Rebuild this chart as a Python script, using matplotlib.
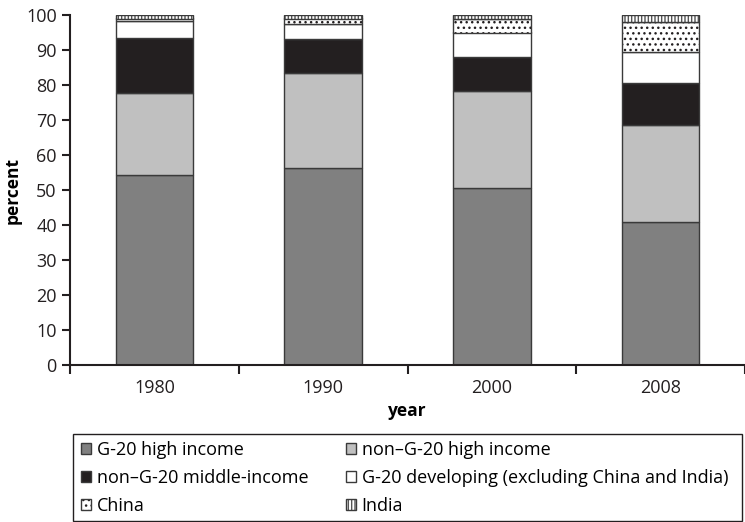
import matplotlib
matplotlib.use("Agg")
import matplotlib.pyplot as plt
from matplotlib.patches import Rectangle
import numpy as np

plt.rcParams['font.family'] = ['Open Sans', 'DejaVu Sans']
plt.rcParams['hatch.linewidth'] = 1.0

years = ["1980", "1990", "2000", "2008"]
series_names = ["G-20 high income", "non\u2013G-20 high income", "non\u2013G-20 middle-income",
                "G-20 developing (excluding China and India)", "China", "India"]
g20_high = [54.3, 56.3, 50.5, 40.8]
non_g20_high = [23.5, 27.0, 27.7, 27.7]
non_g20_middle = [15.5, 9.8, 9.7, 12.0]
g20_developing = [5.0, 4.2, 7.1, 8.8]
china = [0.7, 1.7, 4.0, 8.8]
india = [1.0, 1.0, 1.0, 1.9]

series = [g20_high, non_g20_high, non_g20_middle, g20_developing, china, india]
faces = ["#808080", "#c0c0c0", "#231f20", "white", "white", "white"]
hatches = [None, None, None, None, "...", "|||||"]
hatch_colors = [None, None, None, None, "#231f20", "#555555"]

W, H = 745, 522
fig = plt.figure(figsize=(W/100, H/100), dpi=100)
ax = fig.add_axes([70/W, 1-365/H, 1-70/W, (365-15)/H])

x = np.arange(len(years))
bottom = np.zeros(len(years))
handles = []
for vals, name, fc, h, hc in zip(series, series_names, faces, hatches, hatch_colors):
    vals = np.array(vals)
    bars = ax.bar(x, vals, width=0.46, bottom=bottom, color=fc, edgecolor="#3a3a3a",
                  linewidth=1.0, label=name, zorder=2)
    if h is not None:
        for b in bars:
            b.set_hatch(h)
            b._hatch_color = matplotlib.colors.to_rgba(hc)
    handles.append(bars)
    bottom += vals

ax.set_xlim(-0.5, 3.46)
ax.set_ylim(0, 100)
ax.set_yticks(np.arange(0, 101, 10))
ax.set_xticks(x)
ax.set_xticklabels(years)
ax.set_xticks(np.arange(-0.5, 3.6, 1.0), minor=True)
ax.tick_params(axis='x', which='major', length=0, labelsize=13, pad=10, colors="#231f20")
ax.tick_params(axis='x', which='minor', length=6.5, width=1.5, direction='out', color="#231f20")
ax.tick_params(axis='y', length=6, width=1.5, labelsize=13, colors="#231f20")
for s in ["top", "right"]:
    ax.spines[s].set_visible(False)
for s in ["left", "bottom"]:
    ax.spines[s].set_linewidth(1.5)
    ax.spines[s].set_color("#231f20")
ax.set_ylabel("percent", fontsize=12.5, fontweight="bold", labelpad=3)
ax.set_xlabel("year", fontsize=12.5, fontweight="bold", labelpad=4)

# legend frame
fig.patches.append(Rectangle((73/W, 1-521/H), (742-73)/W, (521-434)/H, transform=fig.transFigure,
                             facecolor="none", edgecolor="#231f20", linewidth=1.0))

leg_kw = dict(frameon=False, fontsize=13, handlelength=0.57, handleheight=0.57,
              handletextpad=0.3, borderaxespad=0, borderpad=0, labelspacing=0.56, loc="upper left")
col1 = [0, 2, 4]
col2 = [1, 3, 5]
leg1 = fig.legend([handles[i] for i in col1], [series_names[i] for i in col1],
                  bbox_to_anchor=(81/W, 1-441/H), **leg_kw)
leg2 = fig.legend([handles[i] for i in col2], [series_names[i] for i in col2],
                  bbox_to_anchor=(346/W, 1-441/H), **leg_kw)

fig.savefig("out.png", dpi=100)
